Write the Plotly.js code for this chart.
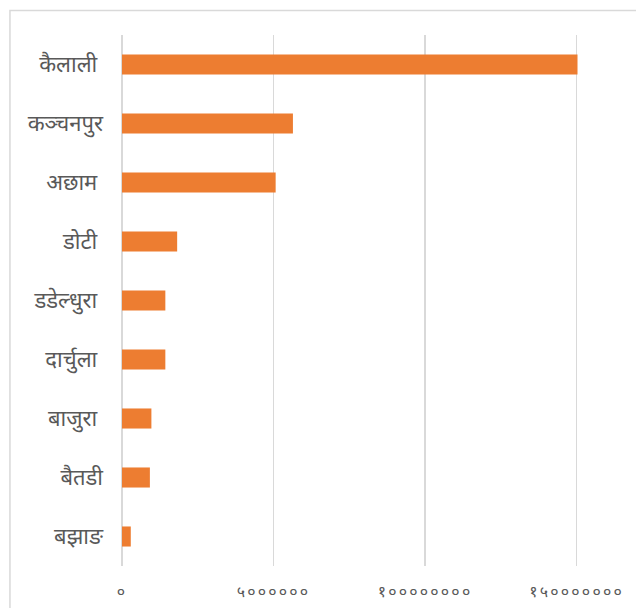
<!DOCTYPE html>
<html>
<head>
<meta charset="utf-8">
<script src="https://cdn.plot.ly/plotly-3.0.1.min.js"></script>
<style>html,body{margin:0;padding:0;background:#fff;}#chart{width:636px;height:608px;}
.xtick text{letter-spacing:2.2px;}</style>
</head>
<body>
<div id="chart"></div>
<script>
const districts = ['कैलाली\u00A0','कञ्चनपुर','अछाम\u00A0','डोटी\u00A0','डडेल्धुरा\u00A0','दार्चुला\u00A0','बाजुरा\u00A0','बैतडी','बझाङ'];
const values = [15030000, 5640000, 5070000, 1820000, 1430000, 1430000, 970000, 920000, 290000];
const tickValues = [0, 5000000, 10000000, 15000000];
const tickLabels = ['०','५००००००','१००००००००','१५०००००००'];

const font = 'Noto Sans, DejaVu Sans, sans-serif';
Plotly.newPlot('chart', [{
  type: 'bar',
  orientation: 'h',
  y: districts,
  x: values,
  marker: {color: '#ED7D31'},
  hoverinfo: 'none'
}], {
  width: 636, height: 608,
  margin: {l: 122, r: 0, t: 35, b: 42},
  paper_bgcolor: '#fff', plot_bgcolor: '#fff',
  bargap: 0.66,
  showlegend: false,
  xaxis: {
    range: [0, 16960000],
    tickvals: tickValues, ticktext: tickLabels,
    showgrid: true, gridcolor: '#d9d9d9', gridwidth: 1.5,
    zeroline: true, zerolinecolor: '#d9d9d9', zerolinewidth: 1.5,
    showline: false, ticks: '',
    ticklabelstandoff: 14,
    tickfont: {family: font, size: 16, color: '#595959'},
    fixedrange: true
  },
  yaxis: {
    type: 'category',
    autorange: 'reversed',
    showgrid: false, zeroline: false, showline: false, ticks: '',
    ticklabelstandoff: 18,
    tickfont: {family: font, size: 22, color: '#595959'},
    fixedrange: true
  },
  shapes: [{
    type: 'rect', xref: 'paper', yref: 'paper', layer: 'below',
    x0: -0.218, x1: 1.3, y0: -0.3, y1: 1.046,
    line: {color: '#d9d9d9', width: 1.5}, fillcolor: 'rgba(0,0,0,0)'
  }]
}, {displayModeBar: false, staticPlot: true});
</script>
</body>
</html>
